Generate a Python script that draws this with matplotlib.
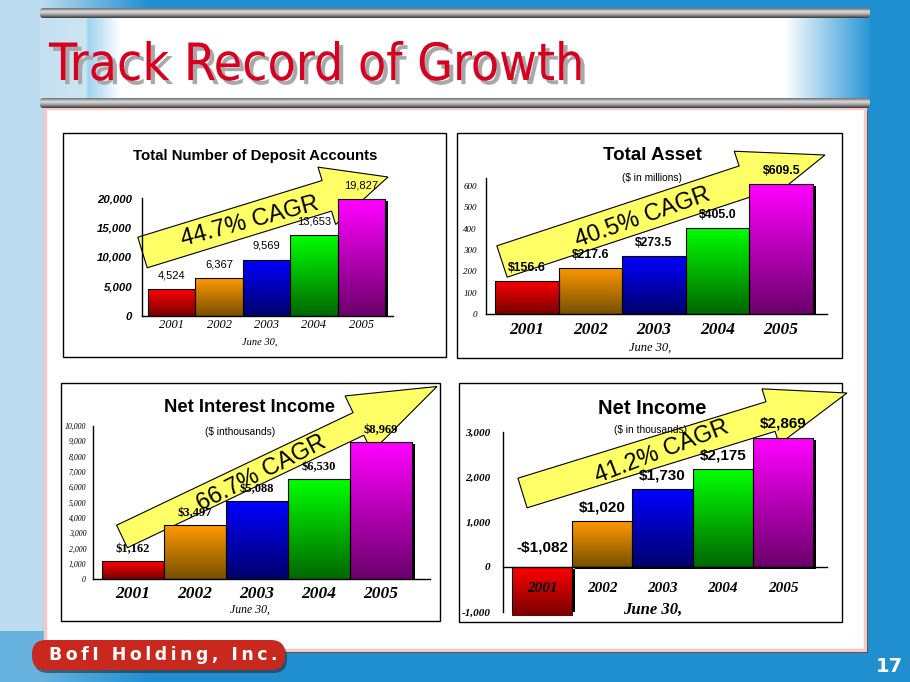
import numpy as np
import matplotlib
matplotlib.use('Agg')
import matplotlib.pyplot as plt
from matplotlib import transforms
from matplotlib import patheffects
from matplotlib.colors import LinearSegmentedColormap, to_rgb
from matplotlib.patches import Polygon, Rectangle, FancyBboxPatch

W, H = 910, 682

years = ['2001', '2002', '2003', '2004', '2005']
deposit_accounts = [4524, 6367, 9569, 13653, 19827]
total_assets = [156.6, 217.6, 273.5, 405.0, 609.5]
net_interest_income = [1162, 3497, 5088, 6530, 8969]
net_income = [-1082, 1020, 1730, 2175, 2869]
cagr = [44.7, 40.5, 66.7, 41.2]

# (top, bottom) of each bar gradient
bar_colors = [('#ff0000', '#780000'), ('#ff9900', '#785000'), ('#0000ff', '#00006c'),
              ('#00ff00', '#006800'), ('#ff00ff', '#6c006c')]

SANS = ['Liberation Sans', 'DejaVu Sans']
SERIF = ['Liberation Serif', 'DejaVu Serif']

fig = plt.figure(figsize=(W / 100, H / 100), dpi=100)

# ---- slide background, drawn in pixel coordinates ----
bg = fig.add_axes([0, 0, 1, 1])
bg.set_xlim(0, W)
bg.set_ylim(H, 0)
bg.axis('off')

yy, xx = np.mgrid[0:H, 0:W]
light = np.array(to_rgb('#bddcf0'))
blue = np.array(to_rgb('#1f8fd0'))
w = np.clip((150 - xx) / 110, 0, 1) * np.where(yy > 630, 0.45, 1.0)
img = light * w[..., None] + blue * (1 - w[..., None])
bg.imshow(img, extent=[0, W, H, 0], zorder=0)

# title band
bx = np.arange(40, 871)
stops = [40, 85, 88, 120, 785, 870]
cols = [to_rgb(c) for c in ['#c4e0f1', '#cbe5f3', '#9fd3ee', '#ffffff', '#ffffff', '#2b96d6']]
band = np.stack([np.interp(bx, stops, [c[i] for c in cols]) for i in range(3)], axis=-1)[None]
bg.imshow(band, extent=[40, 870, 98, 17], aspect='auto', zorder=1)

# rods
rod_cmap = LinearSegmentedColormap.from_list('rod', [(0, '#707070'), (0.35, '#dcdcdc'),
                                                     (0.65, '#a4a4a4'), (1, '#3a3a3a')])
for ry in [8, 98]:
    rod = FancyBboxPatch((40, ry), 830, 10, boxstyle='round,pad=0,rounding_size=3',
                         fc='none', ec='none', zorder=3)
    bg.add_patch(rod)
    im = bg.imshow(np.linspace(0, 1, 32).reshape(-1, 1), cmap=rod_cmap, aspect='auto',
                   extent=[40, 870, ry + 10, ry], zorder=3)
    im.set_clip_path(rod)

# main white panel
bg.add_patch(Rectangle((48, 111), 820, 542, fc='#333333', ec='none', zorder=1))
bg.add_patch(Rectangle((45, 108), 820, 542, fc='white', ec='#f3caca', lw=2.5, zorder=1.5))

# slide title with drop shadow
bg.text(49, 80, 'Track Record of Growth', color='#d7001f', fontsize=37,
        family='DejaVu Sans', fontstretch='condensed', va='baseline', zorder=5,
        path_effects=[patheffects.withSimplePatchShadow(offset=(3, -3),
                                                        shadow_rgbFace='#a8a8a8', alpha=1)])

# company tag and page number
bg.add_patch(FancyBboxPatch((34, 643), 253, 30, boxstyle='round,pad=0,rounding_size=14',
                            fc='#2a2a2a', ec='none', alpha=0.6, zorder=3))
bg.add_patch(FancyBboxPatch((32, 640), 253, 30, boxstyle='round,pad=0,rounding_size=14',
                            fc='#c8281d', ec='none', zorder=3))
bg.text(49, 655, '\u2009'.join('BofI Holding, Inc.'), color='white', fontsize=12.5,
        fontweight='bold', family='DejaVu Sans', va='center', zorder=5)
bg.text(889, 667, '17', color='white', fontsize=14, fontweight='bold',
        family='DejaVu Sans', ha='center', va='center', zorder=5)

# chart frames
for x0, y0, bw, bh in [(63, 133, 383, 224), (457, 133, 385, 225),
                       (61, 383, 379, 238), (459, 383, 383, 239)]:
    bg.add_patch(Rectangle((x0, y0), bw, bh, fc='white', ec='black', lw=1, zorder=3))


def arrow_poly(tail, tip, shaft_w, head_w, head_len):
    t = np.array(tail, float)
    p = np.array(tip, float)
    u = (p - t) / np.hypot(*(p - t))
    n = np.array([-u[1], u[0]])
    base = p - u * head_len
    return [t + n * shaft_w / 2, base + n * shaft_w / 2, base + n * head_w / 2, p,
            base - n * head_w / 2, base - n * shaft_w / 2, t - n * shaft_w / 2]


arrows = [((142.5, 252.5), (388, 177), 32, 60, 64),
          ((502, 261.5), (825, 155), 33, 64, 85),
          ((122, 536.5), (437, 386.5), 25, 62, 87),
          ((522.5, 493), (847, 393), 31, 58, 80)]
cagr_pos = [((250, 222), 15), ((643, 218), 19.5), ((262, 473), 27), ((662, 452), 21)]
for spec, (pos, rot), rate in zip(arrows, cagr_pos, cagr):
    bg.add_patch(Polygon(arrow_poly(*spec), closed=True, fc='#ffff66', ec='black',
                         lw=0.8, zorder=4))
    bg.text(pos[0], pos[1], f'{rate}% CAGR', rotation=rot, rotation_mode='anchor',
            ha='center', va='center', fontsize=17, family=SANS, zorder=5)

# chart titles and notes
bg.text(255, 156, 'Total Number of Deposit Accounts', fontsize=10.8, fontweight='bold',
        family=SANS, ha='center', va='center', zorder=5)
bg.text(260, 342, 'June 30,', fontsize=7.5, style='italic', family=SERIF,
        ha='center', va='center', zorder=5)
bg.text(652, 156, 'Total Asset', fontsize=13.5, fontweight='bold', family=SANS,
        ha='center', va='center', zorder=5)
bg.text(652, 178, '($ in millions)', fontsize=7.3, family=SANS, ha='center',
        va='center', zorder=5)
bg.text(650, 348, 'June 30,', fontsize=9, style='italic', family=SERIF,
        ha='center', va='center', zorder=5)
bg.text(250, 408, 'Net Interest Income', fontsize=13.2, fontweight='bold', family=SANS,
        ha='center', va='center', zorder=5)
bg.text(240, 432, '($ inthousands)', fontsize=7.3, family=SANS, ha='center',
        va='center', zorder=5)
bg.text(250, 610, 'June 30,', fontsize=8.5, style='italic', family=SERIF,
        ha='center', va='center', zorder=5)
bg.text(652, 408, 'Net Income', fontsize=14.5, fontweight='bold', family=SANS,
        ha='center', va='center', zorder=5)
bg.text(650, 430, '($ in thousands)', fontsize=7.3, family=SANS, ha='center',
        va='center', zorder=5)
bg.text(653, 610, 'June 30,', fontsize=12, style='italic', fontweight='bold',
        family=SERIF, ha='center', va='center', zorder=5)


def add_px_axes(x0, y0, x1, y1):
    return fig.add_axes([x0 / W, 1 - y1 / H, (x1 - x0) / W, (y1 - y0) / H])


def draw_bars(ax, values, xlim, ylim):
    x = np.arange(len(values))
    shadow = transforms.offset_copy(ax.transData, fig=fig, x=3, y=-2, units='dots')
    ax.bar(x, values, width=1, color='black', transform=shadow, zorder=1)
    bars = ax.bar(x, values, width=1, color=[c[0] for c in bar_colors], zorder=2)
    for bar, (top, bottom) in zip(bars, bar_colors):
        cmap = LinearSegmentedColormap.from_list('grad', [bottom, top])
        y0 = bar.get_y()
        y1 = y0 + bar.get_height()
        im = ax.imshow(np.linspace(0, 1, 64).reshape(-1, 1), cmap=cmap, origin='lower',
                       aspect='auto', zorder=2.5,
                       extent=[bar.get_x(), bar.get_x() + bar.get_width(), min(y0, y1), max(y0, y1)])
        im.set_clip_path(bar)
    ax.bar(x, values, width=1, fill=False, edgecolor='black', lw=0.8, zorder=3)
    ax.set_xlim(xlim)
    ax.set_ylim(ylim)
    ax.patch.set_alpha(0)
    for side in ['top', 'right']:
        ax.spines[side].set_visible(False)
    for side in ['left', 'bottom']:
        ax.spines[side].set_linewidth(1)
    ax.tick_params(length=0)
    return x


def label_bars(ax, x, values, labels, offset_px, **kw):
    for xi, v, lab in zip(x, values, labels):
        ax.annotate(lab, (xi, max(v, 0)), xytext=(0, offset_px * 0.72),
                    textcoords='offset points', ha='center', va='center',
                    annotation_clip=False, zorder=6, **kw)


# chart 1: deposit accounts
ax1 = add_px_axes(142, 198, 393, 316)
x = draw_bars(ax1, deposit_accounts, (-0.627, 4.669), (0, 20000))
ax1.set_yticks(range(0, 20001, 5000), [f'{v:,}' for v in range(0, 20001, 5000)],
               fontsize=8.2, fontweight='bold', style='italic', family=SANS)
ax1.set_xticks(x, years, fontsize=9, style='italic', family=SERIF)
ax1.tick_params(axis='y', pad=7)
ax1.tick_params(axis='x', pad=2.5)
label_bars(ax1, x, deposit_accounts, [f'{v:,}' for v in deposit_accounts], 14,
           fontsize=8, family=SANS)

# chart 2: total assets
ax2 = add_px_axes(486, 177.5, 827, 314)
x = draw_bars(ax2, total_assets, (-0.642, 4.72), (0, 640))
ax2.set_yticks(range(0, 601, 100), [str(v) for v in range(0, 601, 100)],
               fontsize=6.5, style='italic', family=SERIF)
ax2.set_xticks(x, years, fontsize=12.5, fontweight='bold', style='italic', family=SERIF)
ax2.tick_params(axis='y', pad=6.5)
ax2.tick_params(axis='x', pad=6)
label_bars(ax2, x, total_assets, [f'${v:.1f}' for v in total_assets], 13,
           fontsize=8.8, fontweight='bold', family=SANS)

# chart 3: net interest income
ax3 = add_px_axes(93, 426, 430, 579)
x = draw_bars(ax3, net_interest_income, (-0.645, 4.79), (0, 10000))
ax3.set_yticks(range(0, 10001, 1000), [f'{v:,}' for v in range(0, 10001, 1000)],
               fontsize=5.6, style='italic', family=SERIF)
ax3.set_xticks(x, years, fontsize=12.5, fontweight='bold', style='italic', family=SERIF)
ax3.tick_params(axis='y', pad=5)
ax3.tick_params(axis='x', pad=5)
label_bars(ax3, x, net_interest_income, [f'${v:,}' for v in net_interest_income], 12,
           fontsize=9, fontweight='bold', family=SERIF)

# chart 4: net income
ax4 = add_px_axes(503, 432, 827, 612)
x = draw_bars(ax4, net_income, (-0.65, 4.73), (-1000, 3000))
ax4.spines['bottom'].set_position(('data', 0))
ax4.xaxis.set_zorder(4)
ax4.set_yticks(range(-1000, 3001, 1000), [f'{v:,}' for v in range(-1000, 3001, 1000)],
               fontsize=8, fontweight='bold', style='italic', family=SERIF)
ax4.set_xticks(x, years, fontsize=11, fontweight='bold', style='italic', family=SERIF)
ax4.tick_params(axis='y', pad=9)
ax4.tick_params(axis='x', pad=11)
label_bars(ax4, x, net_income,
           [f'-${-v:,}' if v < 0 else f'${v:,}' for v in net_income],
           14, fontsize=11, fontweight='bold', family=SANS)
ax4.texts[0].set_position((0, 19 * 0.72))

fig.savefig('out.png', dpi=100)
